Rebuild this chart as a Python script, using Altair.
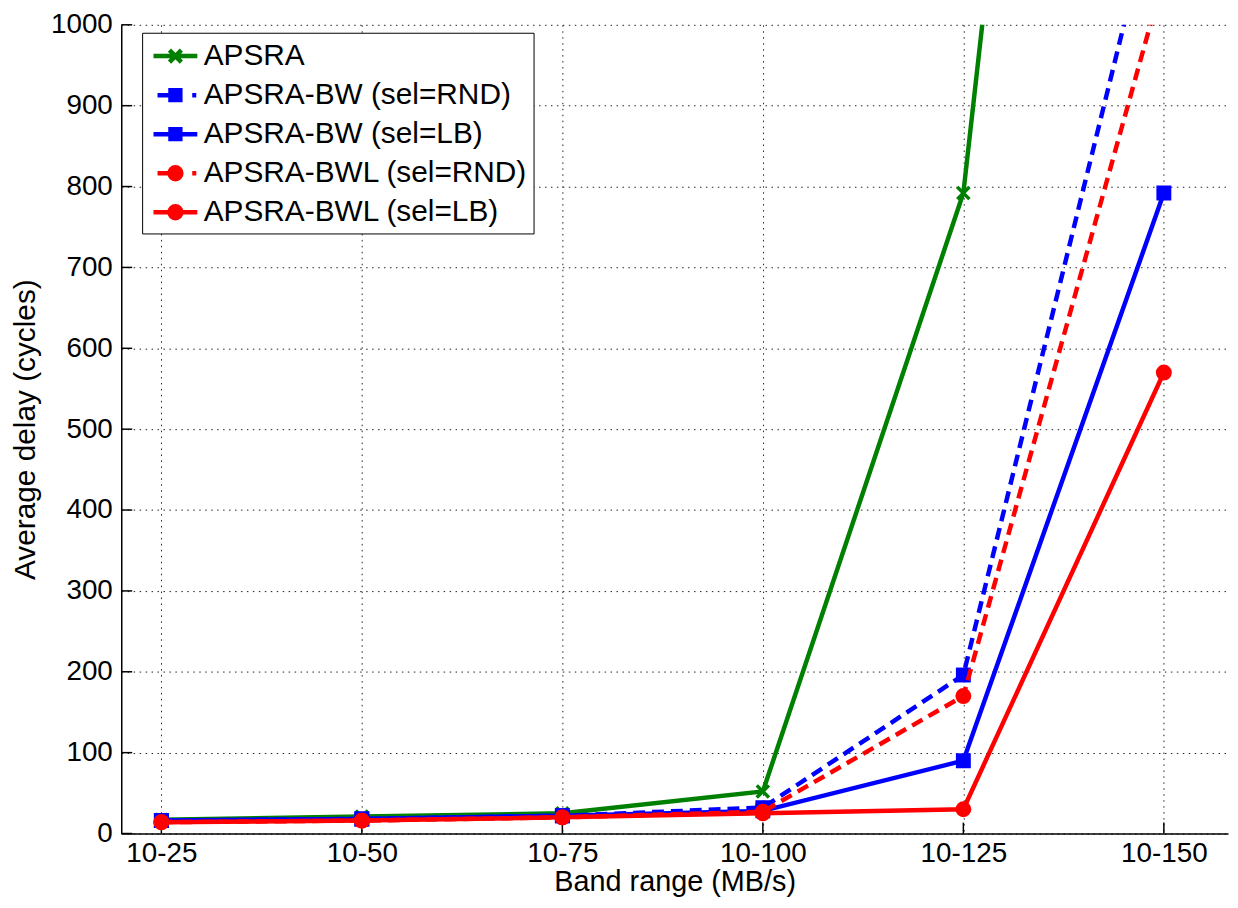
import json
import altair as alt
import pandas as pd

# ---- data ----
categories = ["10-25", "10-50", "10-75", "10-100", "10-125", "10-150"]
series_names = [
    "APSRA",
    "APSRA-BW (sel=RND)",
    "APSRA-BW (sel=LB)",
    "APSRA-BWL (sel=RND)",
    "APSRA-BWL (sel=LB)",
]
apsra = [17, 21, 25, 52, 792, 3000]
bw_rnd = [16, 18, 22, 32, 196, 1200]
bw_lb = [16, 18, 22, 28, 90, 792]
bwl_rnd = [14, 16, 20, 27, 170, 1060]
bwl_lb = [14, 16, 20, 25, 30, 570]
series_values = [apsra, bw_rnd, bw_lb, bwl_rnd, bwl_lb]
y_ticks = [0, 100, 200, 300, 400, 500, 600, 700, 800, 900, 1000]

# ---- styles ----
colors = ["#008000", "#0000ff", "#0000ff", "#ff0000", "#ff0000"]
dashes = [None, [12, 7], None, [12, 7], None]
X_PATH = "M-1,-1L1,1M-1,1L1,-1"
markers = [X_PATH, "square", "square", "circle", "circle"]
marker_sizes = [150, 225, 225, 256, 256]
marker_filled = [False, True, True, True, True]

# legend symbols: line segment + marker drawn as one custom path
SOLID = "M-1.47,0L1.47,0"
DASHED = "M-1.2,0L0,0M1.13,0L1.4,0"
SQ = "M-0.33,-0.33H0.33V0.33H-0.33Z"
CI = "M-0.4,0A0.4,0.4 0 1,0 0.4,0A0.4,0.4 0 1,0 -0.4,0Z"
XX = "M-0.4,-0.4L0.4,0.4M-0.4,0.4L0.4,-0.4"
legend_paths = [SOLID + XX, DASHED + SQ, SOLID + SQ, DASHED + CI, SOLID + CI]

FONT = "Liberation Sans"
W, H = 1114, 814

rows = []
for name, vals in zip(series_names, series_values):
    for i, (c, v) in enumerate(zip(categories, vals)):
        rows.append({"idx": i + 1, "cat": c, "series": name, "value": v})
df = pd.DataFrame(rows)
df_y = pd.DataFrame({"v": y_ticks})
df_x = pd.DataFrame({"i": list(range(1, len(categories) + 1))})

label_expr = json.dumps(categories) + "[round(datum.value) - 1]"

x_scale = alt.Scale(domain=[0.8, 6.32], nice=False, zero=False)
y_scale = alt.Scale(domain=[0, 1000], nice=False, zero=False)

x_axis = alt.Axis(
    values=list(range(1, len(categories) + 1)),
    labelExpr=label_expr,
    title="Band range (MB/s)",
    grid=True, gridDash=[1.5, 4.5], gridColor="#222222", gridWidth=1,
    tickSize=0, labelPadding=6, labelFontSize=28, titleFontSize=29,
    titleFontWeight="normal", labelFont=FONT, titleFont=FONT,
    labelColor="black", titleColor="black", domainColor="black", domainWidth=1.5,
    titlePadding=0, labelFlush=False, labelOverlap=False,
)
y_axis = alt.Axis(
    values=y_ticks, format="d",
    title="Average delay (cycles)",
    grid=True, gridDash=[1.5, 4.5], gridColor="#222222", gridWidth=1,
    tickSize=0, labelPadding=9, labelFontSize=28, titleFontSize=30,
    titleFontWeight="normal", labelFont=FONT, titleFont=FONT,
    labelColor="black", titleColor="black", domainColor="black", domainWidth=1.5,
    titleX=-96, titleBaseline="middle", labelFlush=False, labelOverlap=False,
)

base = alt.Chart(df)

# axes carriers (grid + labels)
axes_layer = alt.Chart(df_x).mark_rule(opacity=0).encode(
    x=alt.X("i:Q", scale=x_scale, axis=x_axis),
    y=alt.value(0),
    y2=alt.value(1),
)
y_axes_layer = alt.Chart(df_y).mark_rule(opacity=0).encode(
    y=alt.Y("v:Q", scale=y_scale, axis=y_axis),
    x=alt.value(0),
    x2=alt.value(1),
)

# inward ticks (MATLAB style)
y_ticks_layer = alt.Chart(df_y).mark_rule(color="black", strokeWidth=1.5).encode(
    y=alt.Y("v:Q", scale=y_scale),
    x=alt.value(0),
    x2=alt.value(11),
)
x_ticks_layer = alt.Chart(df_x).mark_rule(color="black", strokeWidth=1.5).encode(
    x=alt.X("i:Q", scale=x_scale),
    y=alt.value(H),
    y2=alt.value(H - 11),
)

layers = [axes_layer, y_axes_layer, y_ticks_layer, x_ticks_layer]
for name, col, dash, mk, ms, mf in zip(series_names, colors, dashes, markers, marker_sizes, marker_filled):
    line_kwargs = dict(color=col, strokeWidth=4.5, clip=True)
    if dash is not None:
        line_kwargs["strokeDash"] = dash
    line = base.transform_filter(alt.datum.series == name).mark_line(**line_kwargs).encode(
        x=alt.X("idx:Q", scale=x_scale),
        y=alt.Y("value:Q", scale=y_scale),
    )
    if mf:
        pt = base.transform_filter(alt.datum.series == name).mark_point(
            shape=mk, size=ms, filled=True, color=col, opacity=1, clip=True
        )
    else:
        pt = base.transform_filter(alt.datum.series == name).mark_point(
            shape=mk, size=ms, filled=False, color=col, strokeWidth=3.5, opacity=1, clip=True
        )
    pt = pt.encode(
        x=alt.X("idx:Q", scale=x_scale),
        y=alt.Y("value:Q", scale=y_scale),
    )
    layers += [line, pt]

leg = alt.Legend(
    title=None, orient="none", legendX=21, legendY=8,
    strokeColor="black", fillColor="white", padding=6, cornerRadius=0,
    labelFontSize=30, labelFont=FONT, labelColor="black", labelLimit=0,
    symbolSize=900, symbolStrokeWidth=4.5, rowPadding=6.3,
    symbolOffset=10, labelOffset=11,
)
legend_layer = base.transform_filter("false").mark_point(
    filled=True, size=900, opacity=1, strokeWidth=4.5
).encode(
    x=alt.X("idx:Q", scale=x_scale),
    y=alt.Y("value:Q", scale=y_scale),
    fill=alt.Fill("series:N", scale=alt.Scale(domain=series_names, range=colors), legend=leg),
    stroke=alt.Stroke("series:N", scale=alt.Scale(domain=series_names, range=colors), legend=leg),
    shape=alt.Shape("series:N", scale=alt.Scale(domain=series_names, range=legend_paths), legend=leg),
)
layers.append(legend_layer)

chart = alt.layer(*layers).properties(
    width=W, height=H,
    autosize=alt.AutoSizeParams(type="none"),
    padding={"left": 114, "top": 14, "right": 2, "bottom": 64},
    background="white",
).configure_view(stroke=None)

chart.save("out.html", embed_options={"renderer": "svg", "actions": False})
